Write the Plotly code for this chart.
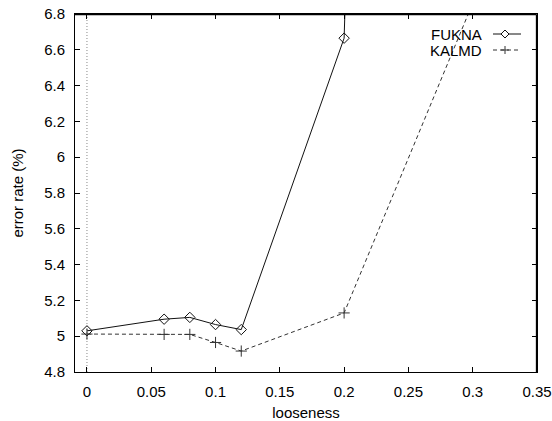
import plotly.graph_objects as go

looseness_fukna = [0, 0.06, 0.08, 0.1, 0.12, 0.2, 0.3]
error_fukna = [5.03, 5.095, 5.105, 5.065, 5.037, 6.665, 30.0]
looseness_kalmd = [0, 0.06, 0.08, 0.1, 0.12, 0.2, 0.3]
error_kalmd = [5.012, 5.01, 5.01, 4.965, 4.917, 5.13, 6.86]

x_ticks = [0, 0.05, 0.1, 0.15, 0.2, 0.25, 0.3, 0.35]
x_ticktext = ["0", "0.05", "0.1", "0.15", "0.2", "0.25", "0.3", "0.35"]
y_ticks = [4.8, 5.0, 5.2, 5.4, 5.6, 5.8, 6.0, 6.2, 6.4, 6.6, 6.8]
y_ticktext = ["4.8", "5", "5.2", "5.4", "5.6", "5.8", "6", "6.2", "6.4", "6.6", "6.8"]
series_names = ["FUKNA", "KALMD"]

FONT = "Liberation Sans, Arial, sans-serif"
W, H = 552, 421
L, R, T, B = 75, 15, 14, 49
PW, PH = W - L - R, H - T - B

def px_to_paper(px, py):
    return (px - L) / PW, (H - B - py) / PH

line_styles = [dict(color="#111", width=1), dict(color="#333", width=1, dash="4px,3px")]
marker_paths = ["M -4 0 L 0 4 L 4 0 L 0 -4 Z", "M -4 0 L 4 0 M 0 -4 L 0 4"]

fig = go.Figure()
fig.add_trace(go.Scatter(
    x=looseness_fukna, y=error_fukna, mode="lines+markers", name=series_names[0],
    line=line_styles[0],
    marker=dict(symbol="diamond-open", size=8, color="#111", line=dict(width=1)),
    showlegend=False, cliponaxis=True))
fig.add_trace(go.Scatter(
    x=looseness_kalmd, y=error_kalmd, mode="lines+markers", name=series_names[1],
    line=line_styles[1],
    marker=dict(symbol="cross-thin-open", size=8, color="#333", line=dict(width=1, color="#333")),
    showlegend=False, cliponaxis=True))

# gnuplot-style key: text on the left, sample on the right
px0, px1 = 493, 521
for i, nm in enumerate(series_names):
    yy = 34 + 16 * i
    ax0, ay = px_to_paper(px0, yy)
    ax1, _ = px_to_paper(px1, yy)
    amid, _ = px_to_paper((px0 + px1) / 2 - 2, yy)
    fig.add_shape(type="line", xref="paper", yref="paper", x0=ax0, x1=ax1, y0=ay, y1=ay,
                  line=line_styles[i])
    fig.add_shape(type="path", xref="paper", yref="paper", xsizemode="pixel", ysizemode="pixel",
                  xanchor=amid, yanchor=ay, path=marker_paths[i],
                  line=dict(color=line_styles[i]["color"], width=1), fillcolor="white")
    tx, _ = px_to_paper(px0 - 9, yy)
    fig.add_annotation(x=tx, y=ay, xref="paper", yref="paper", text=nm,
                       showarrow=False, xanchor="right", yanchor="middle",
                       font=dict(family=FONT, size=15, color="#000"))

# dotted zero axis
fig.add_shape(type="line", x0=0, x1=0, y0=0, y1=1, xref="x", yref="paper",
              line=dict(color="#888", width=1, dash="1px,2px"), layer="below")
# plot frame (top and right edges drawn explicitly, slightly inset)
fx1, fy1 = px_to_paper(W - R - 0.5, T + 0.5)
fig.add_shape(type="line", xref="paper", yref="paper", x0=0, x1=fx1, y0=fy1, y1=fy1,
              line=dict(color="#000", width=1.3), layer="above")
fig.add_shape(type="line", xref="paper", yref="paper", x0=fx1, x1=fx1, y0=0, y1=fy1,
              line=dict(color="#000", width=1.3), layer="above")

axis_common = dict(showgrid=False, zeroline=False, showline=True, linecolor="#000",
                   linewidth=1, mirror="allticks", ticks="inside", ticklen=5,
                   tickcolor="#000", automargin=False, ticklabeloverflow="allow",
                   tickfont=dict(family=FONT, size=15, color="#000"))

fig.update_layout(
    width=W, height=H, margin=dict(l=L, r=R, t=T, b=B),
    paper_bgcolor="white", plot_bgcolor="white",
    xaxis=dict(range=[-0.0093, 0.35], tickvals=x_ticks, ticktext=x_ticktext,
               title=dict(text="looseness", font=dict(family=FONT, size=15, color="#000"), standoff=8),
               ticklabelstandoff=6, **axis_common),
    yaxis=dict(range=[4.8, 6.8], tickvals=y_ticks, ticktext=y_ticktext,
               title=dict(text="error rate (%)", font=dict(family=FONT, size=15, color="#000"), standoff=16),
               ticklabelstandoff=6, **axis_common),
    showlegend=False,
)

fig.write_html("out.html", config={"displayModeBar": False},
               post_script="document.body.style.margin='0';document.body.style.overflow='hidden';")
